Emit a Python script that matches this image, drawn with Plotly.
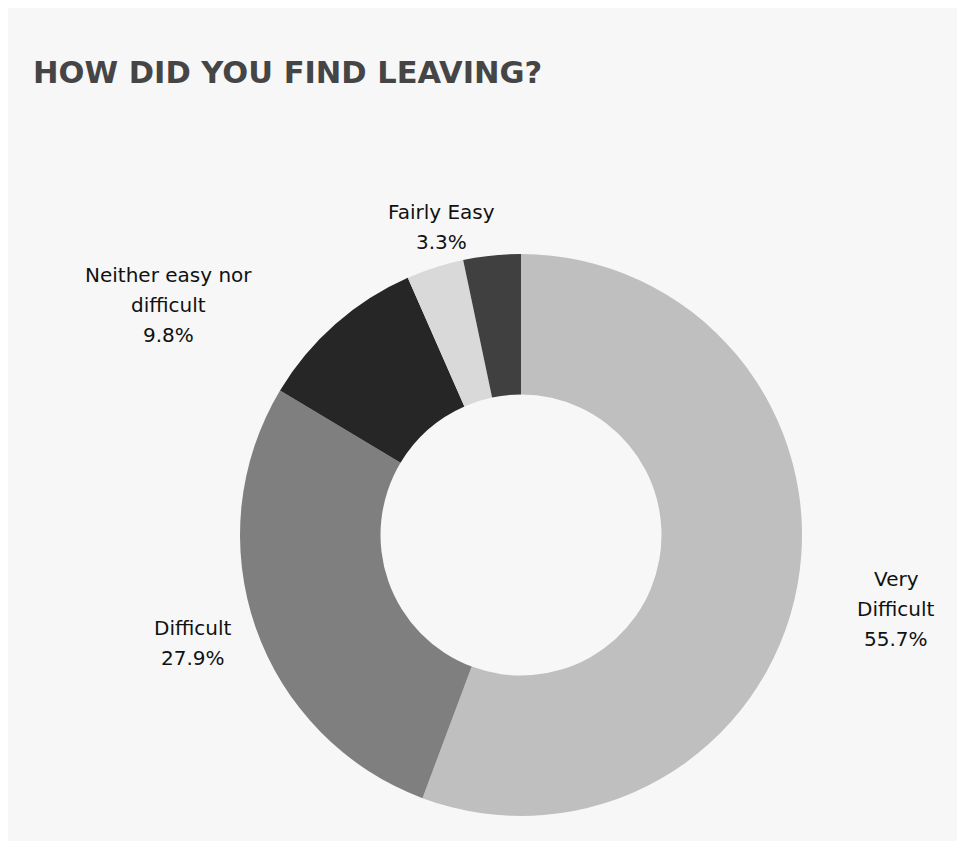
import plotly.graph_objects as go

# Survey answers, clockwise from 12 o'clock
categories = ["Very Difficult", "Difficult", "Neither easy nor difficult", "Fairly Easy", "Very Easy"]
label_lines = [["Very", "Difficult"], ["Difficult"], ["Neither easy nor", "difficult"], ["Fairly Easy"], []]
shares = [55.7, 27.9, 9.8, 3.3, 3.3]
colors = ["#bfbfbf", "#7f7f7f", "#262626", "#d9d9d9", "#404040"]

W, H = 957, 841
PANEL = "#f7f7f7"
LINE_GAP = 30  # px between label lines

# label anchor points in pixels (centre of each text block)
label_pos = [(896, 609), (193, 643), (168, 305), (441, 227), None]

fig = go.Figure(
    go.Pie(
        labels=categories,
        values=shares,
        marker=dict(colors=colors, line=dict(width=0)),
        hole=0.5,
        sort=False,
        direction="clockwise",
        rotation=0,
        textinfo="none",
        hoverinfo="label+percent",
        domain=dict(x=[240 / W, 802 / W], y=[1 - 816 / H, 1 - 254 / H]),
        showlegend=False,
    )
)

annotations = [
    dict(
        text="HOW DID YOU FIND LEAVING?",
        x=31 / W, y=1 - 72 / H, xref="paper", yref="paper",
        xanchor="left", yanchor="middle", showarrow=False,
        font=dict(family="DejaVu Sans", size=30.5, color="#454545", weight="bold"),
    )
]
for lines, val, pos in zip(label_lines, shares, label_pos):
    if pos is None:
        continue
    rows = lines + [f"{val:.1f}%"]
    top = pos[1] - LINE_GAP * (len(rows) - 1) / 2
    for i, row in enumerate(rows):
        annotations.append(
            dict(
                text=row,
                x=pos[0] / W, y=1 - (top + i * LINE_GAP) / H, xref="paper", yref="paper",
                xanchor="center", yanchor="middle", align="center", showarrow=False,
                font=dict(family="DejaVu Sans", size=20, color="#111111"),
            )
        )

fig.update_layout(
    width=W, height=H,
    margin=dict(l=0, r=0, t=0, b=0),
    paper_bgcolor="white",
    plot_bgcolor="white",
    annotations=annotations,
    shapes=[
        dict(type="rect", xref="paper", yref="paper",
             x0=8 / W, x1=1, y0=0, y1=1 - 8 / H,
             fillcolor=PANEL, line=dict(width=0), layer="below")
    ],
)

fig.write_html("out.html")
